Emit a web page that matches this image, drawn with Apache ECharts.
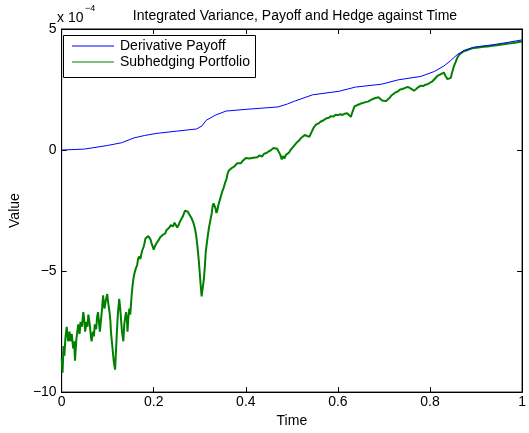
<!DOCTYPE html>
<html>
<head>
<meta charset="utf-8">
<script src="https://cdn.jsdelivr.net/npm/echarts@6/dist/echarts.min.js"></script>
<style>html,body{margin:0;padding:0;background:#fff;}#c{width:529px;height:433px;}</style>
</head>
<body>
<div id="c"></div>
<script>
// Values in units of 1e-4
const xTicks = [0, 0.2, 0.4, 0.6, 0.8, 1];
const yTicks = [-10, -5, 0, 5];

const payoffTime = [0, 0.05, 0.1, 0.13, 0.157, 0.18, 0.207, 0.25, 0.293, 0.305, 0.314, 0.335, 0.357, 0.4, 0.47, 0.49, 0.506, 0.545, 0.603, 0.638, 0.695, 0.731, 0.78, 0.81, 0.83, 0.845, 0.859, 0.875, 0.895, 0.937, 0.97, 1.0];
const payoffValue = [0, 0.04, 0.19, 0.3, 0.5, 0.6, 0.69, 0.78, 0.87, 1.0, 1.23, 1.45, 1.61, 1.68, 1.78, 1.9, 2.02, 2.28, 2.43, 2.6, 2.72, 2.9, 3.04, 3.25, 3.47, 3.7, 3.94, 4.12, 4.25, 4.35, 4.45, 4.55];

const hedgeTime = [0.000,0.002,0.004,0.006,0.008,0.011,0.014,0.017,0.019,0.022,0.025,0.027,0.029,0.032,0.034,0.036,0.039,0.041,0.044,0.047,0.049,0.051,0.054,0.056,0.058,0.061,0.063,0.065,0.068,0.070,0.072,0.075,0.077,0.079,0.081,0.083,0.086,0.088,0.090,0.092,0.093,0.096,0.099,0.101,0.104,0.106,0.107,0.109,0.111,0.113,0.116,0.118,0.120,0.122,0.125,0.127,0.129,0.131,0.134,0.136,0.138,0.140,0.142,0.143,0.145,0.147,0.149,0.152,0.154,0.156,0.158,0.161,0.164,0.166,0.168,0.171,0.173,0.175,0.178,0.180,0.182,0.185,0.188,0.190,0.193,0.196,0.198,0.200,0.203,0.206,0.209,0.211,0.214,0.217,0.220,0.223,0.225,0.228,0.231,0.234,0.237,0.239,0.242,0.245,0.248,0.251,0.254,0.257,0.260,0.263,0.266,0.268,0.271,0.274,0.277,0.280,0.283,0.286,0.289,0.292,0.295,0.298,0.300,0.302,0.304,0.305,0.307,0.309,0.311,0.313,0.315,0.317,0.320,0.322,0.324,0.326,0.328,0.330,0.332,0.334,0.336,0.338,0.340,0.343,0.346,0.349,0.352,0.355,0.358,0.360,0.363,0.366,0.369,0.372,0.375,0.378,0.381,0.385,0.389,0.393,0.397,0.400,0.404,0.408,0.412,0.416,0.420,0.425,0.430,0.435,0.440,0.445,0.450,0.455,0.460,0.464,0.468,0.472,0.475,0.478,0.481,0.484,0.487,0.490,0.494,0.497,0.500,0.505,0.510,0.515,0.520,0.524,0.528,0.533,0.538,0.543,0.548,0.553,0.558,0.563,0.568,0.574,0.580,0.585,0.590,0.595,0.600,0.605,0.610,0.615,0.620,0.624,0.628,0.632,0.636,0.640,0.645,0.650,0.655,0.660,0.665,0.670,0.675,0.680,0.684,0.688,0.692,0.696,0.700,0.704,0.708,0.712,0.716,0.720,0.725,0.730,0.735,0.740,0.745,0.750,0.755,0.760,0.765,0.770,0.775,0.780,0.785,0.790,0.795,0.800,0.806,0.810,0.816,0.820,0.825,0.830,0.834,0.838,0.842,0.845,0.848,0.852,0.856,0.859,0.864,0.868,0.873,0.880,0.888,0.895,0.905,0.916,0.925,0.935,0.945,0.952,0.960,0.970,0.980,0.990,1.000];
const hedgeValue = [-8.6,-9.2,-8.1,-8.5,-7.8,-7.3,-7.9,-7.5,-7.9,-7.6,-8.2,-7.9,-8.7,-7.8,-7.5,-7.2,-7.6,-7.1,-7.3,-6.7,-7.0,-7.5,-7.1,-7.3,-6.8,-7.2,-7.6,-7.9,-7.5,-7.7,-7.2,-7.4,-6.9,-6.7,-7.1,-7.5,-6.9,-6.5,-6.0,-6.4,-6.55,-6.2,-5.95,-6.3,-6.7,-7.1,-7.5,-7.9,-8.3,-8.7,-9.07,-8.3,-7.5,-6.8,-6.15,-6.5,-7.0,-7.5,-7.9,-7.2,-6.9,-6.7,-7.1,-7.5,-6.9,-6.55,-6.8,-6.0,-5.6,-5.3,-5.1,-4.9,-4.75,-4.5,-4.4,-4.5,-4.3,-4.15,-4.0,-3.85,-3.65,-3.6,-3.55,-3.6,-3.7,-3.9,-4.0,-4.12,-3.95,-3.85,-3.8,-3.71,-3.6,-3.65,-3.5,-3.55,-3.44,-3.3,-3.35,-3.2,-3.1,-3.04,-3.15,-3.0,-3.1,-3.2,-3.1,-2.95,-2.85,-2.75,-2.6,-2.5,-2.49,-2.55,-2.65,-2.75,-2.85,-3.0,-3.2,-3.5,-4.0,-4.6,-5.1,-5.6,-6.05,-6.1,-5.6,-5.3,-4.8,-4.2,-3.9,-3.6,-3.2,-3.0,-2.8,-2.6,-2.3,-2.2,-2.25,-2.4,-2.6,-2.5,-2.3,-2.1,-1.9,-1.7,-1.55,-1.35,-1.2,-1.0,-0.85,-0.8,-0.75,-0.7,-0.68,-0.6,-0.55,-0.5,-0.55,-0.45,-0.38,-0.33,-0.3,-0.35,-0.3,-0.32,-0.25,-0.3,-0.22,-0.27,-0.15,-0.12,-0.05,0.0,0.08,0.11,0.05,0.02,-0.2,-0.39,-0.25,-0.35,-0.2,-0.25,-0.1,0.0,0.05,0.18,0.3,0.38,0.5,0.45,0.62,0.58,0.55,0.75,0.95,1.06,1.1,1.18,1.22,1.3,1.33,1.4,1.38,1.46,1.44,1.48,1.45,1.5,1.52,1.5,1.37,1.6,1.8,1.84,1.88,1.92,1.95,1.98,2.0,2.05,2.1,2.14,2.2,2.18,2.1,2.05,2.0,2.02,2.1,2.15,2.25,2.3,2.38,2.42,2.5,2.52,2.56,2.6,2.58,2.52,2.45,2.52,2.6,2.66,2.64,2.7,2.72,2.78,2.85,2.92,3.06,3.1,3.15,3.2,3.05,2.93,2.95,2.98,3.2,3.47,3.65,3.81,3.95,4.02,4.08,4.12,4.18,4.21,4.24,4.27,4.28,4.31,4.33,4.35,4.37,4.4,4.42,4.45,4.48];

const seriesNames = ['Derivative Payoff', 'Subhedging Portfolio'];
const titleText = 'Integrated Variance, Payoff and Hedge against Time';

const FONT = '"Liberation Sans", Arial, Helvetica, sans-serif';
const pair = (xs, ys) => xs.map((x, i) => [x, ys[i]]);
const fmtY = v => String(v).replace('-', '\u2212');

const chart = echarts.init(document.getElementById('c'), null, {renderer: 'canvas'});
const axisCommon = {
  axisLine: {show: true, onZero: false, lineStyle: {color: '#000', width: 1}},
  axisTick: {show: true, inside: true, length: 5, lineStyle: {color: '#000'}},
  splitLine: {show: false}
};
chart.setOption({
  animation: false,
  backgroundColor: '#fff',
  title: {text: titleText, left: 290, textAlign: 'center', top: 4,
    textStyle: {fontFamily: FONT, fontSize: 14, fontWeight: 'normal', color: '#000'}},
  grid: {left: 58, top: 29, right: 3, bottom: 35, show: true, borderColor: '#000', borderWidth: 1, backgroundColor: '#fff'},
  legend: {
    data: seriesNames, orient: 'vertical', left: 72, top: 39, z: 20, padding: 0,
    icon: 'rect', itemWidth: 42, itemHeight: 1, itemGap: 2,
    textStyle: {fontFamily: FONT, fontSize: 14, color: '#000', padding: [0, 0, 0, 1]}
  },
  xAxis: [
    Object.assign({type: 'value', min: xTicks[0], max: xTicks[xTicks.length - 1], interval: 0.2, position: 'bottom',
      name: 'Time', nameLocation: 'middle', nameGap: 14,
      nameTextStyle: {fontFamily: FONT, fontSize: 14, color: '#000', verticalAlign: 'top'},
      axisLabel: {fontFamily: FONT, fontSize: 14, color: '#000', margin: 3, formatter: v => String(v)}}, axisCommon),
    Object.assign({type: 'value', min: 0, max: 1, interval: 0.2, position: 'top', axisLabel: {show: false}}, axisCommon)
  ],
  yAxis: [
    Object.assign({type: 'value', min: yTicks[0], max: yTicks[yTicks.length - 1], interval: 5, position: 'left',
      name: 'Value', nameLocation: 'middle', nameGap: 38, nameRotate: 90,
      nameTextStyle: {fontFamily: FONT, fontSize: 14, color: '#000'},
      axisLabel: {fontFamily: FONT, fontSize: 14, color: '#000', margin: 5, formatter: fmtY}}, axisCommon),
    Object.assign({type: 'value', min: -10, max: 5, interval: 5, position: 'right', axisLabel: {show: false}}, axisCommon)
  ],
  graphic: [
    {type: 'rect', left: 63, top: 35, z: 10, shape: {width: 192, height: 42},
      style: {fill: '#fff', stroke: '#000', lineWidth: 1}},
    {type: 'text', left: 57, top: 11, z: 60, style: {text: 'x 10', font: '14px ' + FONT, fill: '#000'}},
    {type: 'text', left: 85, top: 4, z: 60, style: {text: '\u22124', font: '9px ' + FONT, fill: '#000'}}
  ],
  series: [
    {name: seriesNames[0], type: 'line', data: pair(payoffTime, payoffValue), showSymbol: false, symbol: 'none',
      lineStyle: {color: '#0000ff', width: 1}, itemStyle: {color: '#0000ff'}, z: 3},
    {name: seriesNames[1], type: 'line', data: pair(hedgeTime, hedgeValue), showSymbol: false, symbol: 'none',
      lineStyle: {color: '#008000', width: 2}, itemStyle: {color: '#008000'}, z: 2}
  ]
});
</script>
</body>
</html>
